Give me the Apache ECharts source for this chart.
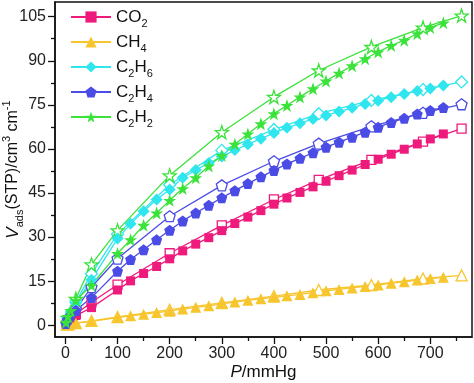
<!DOCTYPE html>
<html><head><meta charset="utf-8">
<script src="https://cdn.jsdelivr.net/npm/echarts@6/dist/echarts.min.js"></script>
<style>html,body{margin:0;padding:0;background:#fff}#c{width:474px;height:383px}</style>
</head><body><div id="c"></div>
<script>
const adsP = [1, 5, 10, 20, 50, 100, 125, 150, 175, 200, 225, 250, 275, 300, 325, 350, 375, 400, 425, 450, 475, 500, 525, 550, 575, 600, 625, 650, 675, 700, 725];
const desP = [760, 686, 587, 486, 400, 300, 200, 100, 50, 20, 5];

const co2Ads = [0.3, 1.0, 1.8, 3.3, 6.0, 12.0, 15.1, 17.6, 20.0, 22.6, 25.3, 27.6, 29.8, 32.2, 34.6, 36.8, 39.0, 41.2, 43.3, 45.2, 47.1, 49.0, 50.9, 52.8, 54.7, 56.5, 58.2, 59.9, 61.7, 63.4, 65.1];
const co2Des = [66.9, 62.5, 56.3, 49.5, 42.8, 34.0, 24.5, 13.8, 7.8, 3.8, 1.0];
const ch4Ads = [0.05, 0.2, 0.4, 0.7, 1.3, 2.6, 3.2, 3.7, 4.3, 4.8, 5.5, 6.1, 6.6, 7.3, 7.9, 8.5, 9.0, 9.5, 10.0, 10.5, 11.1, 11.7, 12.2, 12.7, 13.2, 13.7, 14.3, 14.8, 15.4, 15.9, 16.3];
const ch4Des = [17.0, 15.9, 13.7, 12.0, 9.9, 7.6, 5.3, 2.8, 1.5, 0.7, 0.2];
const c2h6Ads = [0.8, 2.5, 4.5, 7.5, 15.5, 29.5, 34.5, 38.8, 42.8, 46.2, 50.2, 52.8, 55.2, 57.4, 59.6, 61.6, 63.5, 65.4, 67.2, 68.7, 70.2, 71.4, 72.7, 74.0, 75.3, 76.4, 77.6, 78.7, 79.7, 80.6, 81.6];
const c2h6Des = [82.8, 80.2, 76.5, 72.0, 66.6, 59.5, 47.8, 31.0, 17.5, 8.0, 2.5];
const c2h4Ads = [0.6, 2.0, 3.3, 5.0, 9.4, 18.4, 22.4, 25.7, 29.1, 32.3, 35.5, 38.2, 40.8, 43.4, 45.8, 48.2, 50.5, 52.7, 54.9, 56.8, 58.7, 60.6, 62.3, 64.0, 65.7, 67.4, 69.0, 70.4, 71.9, 73.1, 74.1];
const c2h4Des = [75.2, 72.3, 67.7, 61.8, 55.8, 47.6, 37.1, 22.7, 13.0, 5.5, 1.5];
const c2h2Ads = [1.0, 3.0, 5.0, 8.5, 13.6, 24.4, 29.1, 34.0, 38.2, 42.5, 46.5, 50.2, 54.2, 57.8, 61.6, 65.1, 68.6, 72.0, 74.8, 77.7, 80.5, 83.1, 85.8, 88.3, 90.7, 93.0, 95.2, 97.0, 99.2, 101.3, 102.9];
const c2h2Des = [105.4, 101.3, 94.7, 86.7, 77.7, 65.7, 51.0, 32.3, 20.7, 9.0, 2.5];

const gasNames = ['CO2', 'CH4', 'C2H6', 'C2H4', 'C2H2'];
const xMajor = [0, 100, 200, 300, 400, 500, 600, 700];
const xMinor = [50, 150, 250, 350, 450, 550, 650, 750];
const yMajor = [0, 15, 30, 45, 60, 75, 90, 105];
const yMinor = [7.5, 22.5, 37.5, 52.5, 67.5, 82.5, 97.5];

const pent = 'path://M50,2 L97.6,36.5 L79.4,92.5 L20.6,92.5 L2.4,36.5 Z';
const star = 'path://M50,0 L61.8,35.3 L97.6,35.3 L68.5,57.1 L79.4,91.3 L50,70 L20.6,91.3 L31.5,57.1 L2.4,35.3 L38.2,35.3 Z';

const gases = [
  {name: gasNames[0], ads: co2Ads, des: co2Des, color: '#EE1A7C', symbol: 'rect', size: 9},
  {name: gasNames[1], ads: ch4Ads, des: ch4Des, color: '#F7C52E', symbol: 'triangle', size: 11},
  {name: gasNames[2], ads: c2h6Ads, des: c2h6Des, color: '#30E6EE', symbol: 'diamond', size: 12},
  {name: gasNames[3], ads: c2h4Ads, des: c2h4Des, color: '#4B4CE6', symbol: pent, size: 11},
  {name: gasNames[4], ads: c2h2Ads, des: c2h2Des, color: '#3AE23A', symbol: star, size: 13}
];

const FONT = 'Liberation Sans, Arial, sans-serif';
const series = [];
gases.forEach(g => {
  series.push({
    name: g.name + ' des', type: 'line', xAxisIndex: 0, yAxisIndex: 0,
    data: desP.map((p, i) => [p, g.des[i]]),
    symbol: g.symbol, symbolSize: g.size, showAllSymbol: true,
    lineStyle: {color: g.color, width: 1.3},
    itemStyle: {color: '#fff', borderColor: g.color, borderWidth: 1.3},
    emphasis: {disabled: true}, animation: false
  });
});
gases.forEach(g => {
  series.push({
    name: g.name, type: 'line', xAxisIndex: 0, yAxisIndex: 0,
    data: adsP.map((p, i) => [p, g.ads[i]]),
    symbol: g.symbol, symbolSize: g.size, showAllSymbol: true,
    lineStyle: {color: g.color, width: 1.3},
    itemStyle: {color: g.color, borderColor: g.color, borderWidth: 0},
    emphasis: {disabled: true}, animation: false
  });
});

const rich = {
  s: {fontSize: 11, lineHeight: 24, verticalAlign: 'bottom', fontFamily: FONT, color: '#111'},
  u: {fontSize: 11, lineHeight: 24, verticalAlign: 'top', fontFamily: FONT, color: '#111'},
  i: {fontStyle: 'italic', fontSize: 17, fontFamily: FONT, color: '#111'}
};

const xBase = {type: 'value', min: -20, max: 780, gridIndex: 0, position: 'bottom', splitLine: {show: false}};
const yBase = {type: 'value', min: -4, max: 110, gridIndex: 0, position: 'left', splitLine: {show: false}};

const option = {
  animation: false,
  backgroundColor: '#fff',
  grid: {left: 55, right: 2, top: 2, bottom: 46, show: true, borderColor: '#111', borderWidth: 1.5, containLabel: false, outerBoundsMode: 'none'},
  legend: {
    data: gasNames, orient: 'vertical', left: 70, top: 5, padding: 0, itemWidth: 40, itemHeight: 14, itemGap: 1,
    textStyle: {fontSize: 17, fontFamily: FONT, color: '#111', lineHeight: 24, rich: rich},
    formatter: n => n.replace(/(\d)/g, '{s|$1}')
  },
  xAxis: [
    Object.assign({}, xBase, {
      axisLine: {show: true, onZero: false, lineStyle: {color: '#111', width: 1.5}},
      axisTick: {show: true, customValues: xMajor, length: 7, lineStyle: {color: '#111', width: 1.3}},
      axisLabel: {show: true, customValues: xMajor, margin: 9, fontSize: 16, fontFamily: FONT, color: '#222'},
      name: '{i|P}/mmHg', nameLocation: 'middle', nameGap: 27, nameMoveOverlap: false,
      nameTextStyle: {fontSize: 17, fontFamily: FONT, color: '#111', rich: rich}
    }),
    Object.assign({}, xBase, {
      axisLine: {show: false, onZero: false},
      axisTick: {show: true, customValues: xMinor, length: 4, lineStyle: {color: '#111', width: 1.3}},
      axisLabel: {show: false}
    })
  ],
  yAxis: [
    Object.assign({}, yBase, {
      axisLine: {show: true, onZero: false, lineStyle: {color: '#111', width: 1.5}},
      axisTick: {show: true, customValues: yMajor, length: 7, lineStyle: {color: '#111', width: 1.3}},
      axisLabel: {show: true, customValues: yMajor, margin: 9, fontSize: 16, fontFamily: FONT, color: '#222'},
      name: '{i|V}{s|ads}(STP)/cm{u|3} cm{u|-1}', nameLocation: 'middle', nameGap: 30, nameMoveOverlap: false,
      nameTextStyle: {fontSize: 16, fontFamily: FONT, color: '#111', lineHeight: 24, rich: rich}
    }),
    Object.assign({}, yBase, {
      axisLine: {show: false, onZero: false},
      axisTick: {show: true, customValues: yMinor, length: 4, lineStyle: {color: '#111', width: 1.3}},
      axisLabel: {show: false}
    })
  ],
  series: series
};
const chart = echarts.init(document.getElementById('c'), null, {renderer: 'canvas'});
chart.setOption(option);
</script>
</body></html>
